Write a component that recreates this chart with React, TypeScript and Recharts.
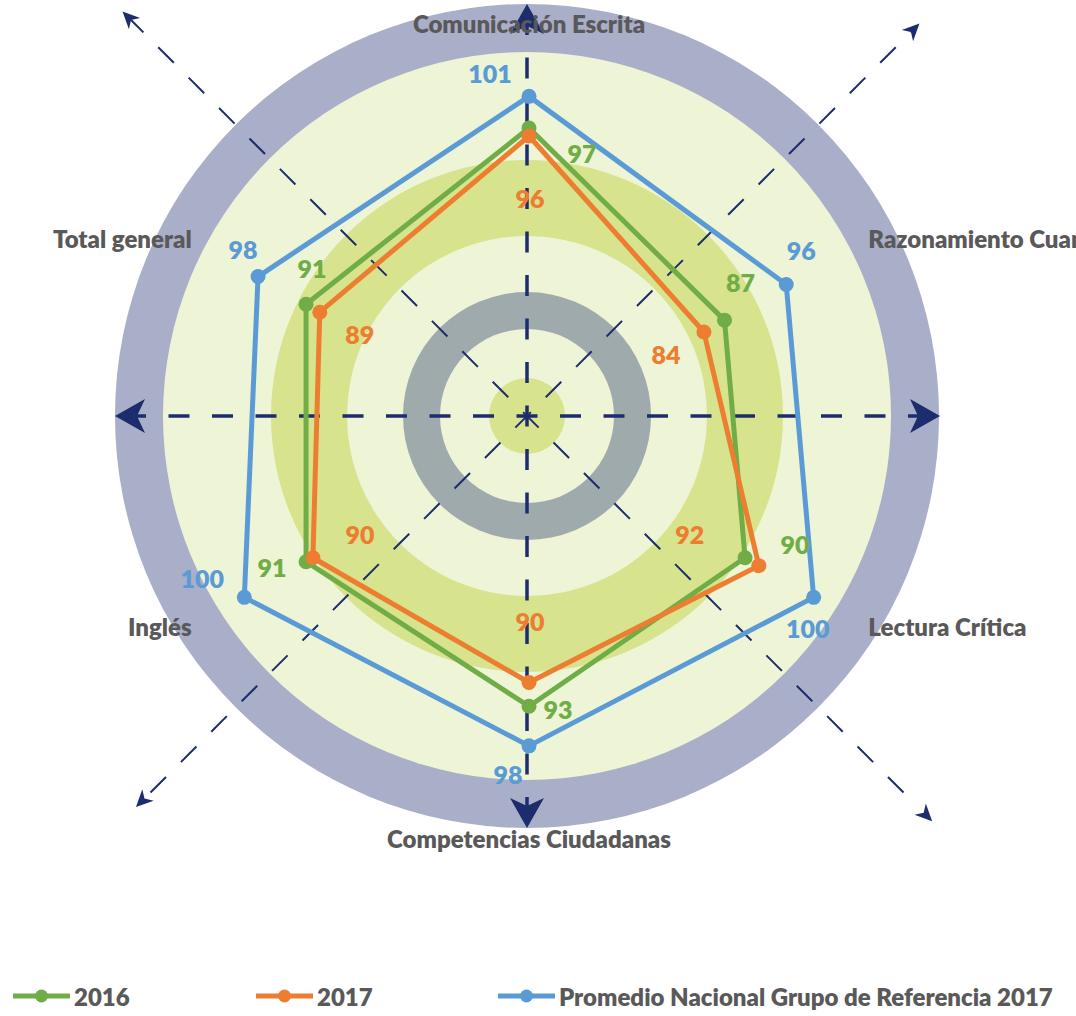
import React from 'react';
import { RadarChart, Radar, PolarAngleAxis, PolarRadiusAxis, LabelList, Legend } from 'recharts';

const categories = [
  'Comunicación Escrita',
  'Razonamiento Cuantitativo',
  'Lectura Crítica',
  'Competencias Ciudadanas',
  'Inglés',
  'Total general',
];
const values2016 = [97, 87, 90, 93, 91, 91];
const values2017 = [96, 84, 92, 90, 90, 89];
const valuesPromedio = [101, 96, 100, 98, 100, 98];
const seriesNames = ['2016', '2017', 'Promedio Nacional Grupo de Referencia 2017'];

const data = categories.map((c, i) => ({
  category: c,
  s2016: values2016[i],
  s2017: values2017[i],
  prom: valuesPromedio[i],
}));

const GREEN = '#70ad47';
const ORANGE = '#ed7d31';
const BLUE = '#5b9bd5';
const NAVY = '#1c2c6c';
const TEXT = '#595959';
const FONT = 'Lato, "Open Sans", sans-serif';
const FS = 24;

// label offsets (relative to each point) – styling only
const labelOffsets: Record<string, number[][]> = {
  s2016: [[53, 25], [16, -38], [50, -14], [29, 3], [-34, 5], [6, -36]],
  s2017: [[1, 62], [-38, 22], [-69, -32], [1, -62], [47, -24], [40, 22]],
  prom: [[-39, -23], [15, -34], [-6, 31], [-21, 28], [-42, -19], [-15, -28]],
};

const tickPlacement: { anchor: 'start' | 'middle' | 'end'; dx: number; dy: number }[] = [
  { anchor: 'middle', dx: 0, dy: 8 },
  { anchor: 'start', dx: -14, dy: 19 },
  { anchor: 'start', dx: -14, dy: -1 },
  { anchor: 'middle', dx: 0, dy: 7 },
  { anchor: 'end', dx: 16, dy: -1 },
  { anchor: 'end', dx: 16, dy: 19 },
];

const makeLabel = (key: string, color: string) => (props: any) => {
  const idx = props.index ?? 0;
  const px = props.x ?? props.viewBox?.x ?? props.cx;
  const py = props.y ?? props.viewBox?.y ?? props.cy;
  if (px == null || py == null) return null;
  const off = labelOffsets[key][idx] || [0, 0];
  return (
    <text
      x={px + off[0]}
      y={py + off[1]}
      textAnchor="middle"
      dominantBaseline="central"
      fill={color}
      fontFamily={FONT}
      fontWeight={800}
      fontSize={FS + 1}
    >
      {props.value}
    </text>
  );
};

const makeDot = (color: string) => (props: any) => (
  <circle key={`dot-${color}-${props.index}`} cx={props.cx} cy={props.cy} r={7.5} fill={color} />
);

const renderTick = (props: any) => {
  const { x, y, payload, index } = props;
  const p = tickPlacement[index] || { anchor: 'middle', dx: 0, dy: 0 };
  return (
    <text
      x={x + p.dx}
      y={y + p.dy}
      textAnchor={p.anchor}
      fill={TEXT}
      fontFamily={FONT}
      fontWeight={800}
      fontSize={FS}
    >
      {payload.value}
    </text>
  );
};

const C = { x: 527, y: 416 };

function arrow(tipX: number, tipY: number, ux: number, uy: number, len: number, halfW: number, notch: number) {
  const bx = tipX - ux * len;
  const by = tipY - uy * len;
  const nx = -uy;
  const ny = ux;
  const c1x = bx + nx * halfW;
  const c1y = by + ny * halfW;
  const c2x = bx - nx * halfW;
  const c2y = by - ny * halfW;
  const kx = tipX - ux * notch;
  const ky = tipY - uy * notch;
  return `M${tipX},${tipY} L${c1x},${c1y} L${kx},${ky} L${c2x},${c2y} Z`;
}

function Background() {
  const period = 43.5;
  const hStart = C.x - (period * 9 + 10.5);
  const vStart = C.y - (period * 9 + 10.5);
  const s = Math.SQRT1_2;
  const diag = [
    { ux: -s, uy: -s, tip: 572 },
    { ux: s, uy: -s, tip: 555 },
    { ux: s, uy: s, tip: 573 },
    { ux: -s, uy: s, tip: 553 },
  ];
  const dStart = period * 12 + 10.5;
  return (
    <svg width={1076} height={1016} style={{ position: 'absolute', left: 0, top: 0 }}>
      <circle cx={C.x} cy={C.y} r={412} fill="#a9aec9" />
      <circle cx={C.x} cy={C.y} r={364} fill="#eef4d6" />
      <circle cx={C.x} cy={C.y} r={256} fill="#d7e38d" />
      <circle cx={C.x} cy={C.y} r={180} fill="#eef4d6" />
      <circle cx={C.x} cy={C.y} r={124} fill="#9faaad" />
      <circle cx={C.x} cy={C.y} r={87} fill="#eef4d6" />
      <circle cx={C.x} cy={C.y} r={38} fill="#d7e38d" />
      <line x1={hStart} y1={C.y} x2={925} y2={C.y} stroke={NAVY} strokeWidth={3.5} strokeDasharray="21 22.5" />
      <line x1={C.x} y1={vStart} x2={C.x} y2={815} stroke={NAVY} strokeWidth={3.5} strokeDasharray="21 22.5" />
      {[diag[0], diag[1]].map((d, i) => {
        const x1 = C.x - d.ux * dStart;
        const y1 = C.y - d.uy * dStart;
        const x2 = C.x + d.ux * (d.tip - 12);
        const y2 = C.y + d.uy * (d.tip - 12);
        return <line key={'d' + i} x1={x1} y1={y1} x2={x2} y2={y2} stroke={NAVY} strokeWidth={2} strokeDasharray="22 21" />;
      })}
      <path d={arrow(115, C.y, -1, 0, 30, 17, 22)} fill={NAVY} />
      <path d={arrow(940, C.y, 1, 0, 30, 17, 22)} fill={NAVY} />
      <path d={arrow(C.x, 4, 0, -1, 30, 17, 22)} fill={NAVY} />
      <path d={arrow(C.x, 828, 0, 1, 30, 17, 22)} fill={NAVY} />
      {diag.map((d, i) => (
        <path
          key={'a' + i}
          d={arrow(C.x + d.ux * d.tip, C.y + d.uy * d.tip, d.ux, d.uy, 17, 8, 12)}
          fill={NAVY}
        />
      ))}
    </svg>
  );
}

const legendX = [13, 256, 498];

const renderLegend = (props: any) => {
  const payload = props.payload || [];
  return (
    <div style={{ position: 'relative', width: 1076, height: 40 }}>
      {payload.map((p: any, i: number) => (
        <div
          key={i}
          style={{
            position: 'absolute',
            left: legendX[i],
            top: 0,
            height: 36,
            display: 'flex',
            alignItems: 'center',
            whiteSpace: 'nowrap',
          }}
        >
          <svg width={60} height={20} style={{ display: 'block' }}>
            <line x1={0} y1={10} x2={57} y2={10} stroke={p.color} strokeWidth={5} />
            <circle cx={28.5} cy={10} r={6.5} fill={p.color} />
          </svg>
          <span style={{ fontFamily: FONT, fontWeight: 800, fontSize: FS, color: TEXT, marginLeft: 1 }}>
            {p.value}
          </span>
        </div>
      ))}
    </div>
  );
};

export default function App() {
  return (
    <div style={{ position: 'absolute', left: 0, top: 0, width: 1076, height: 1016, overflow: 'hidden', background: '#fff' }}>
      <Background />
      <RadarChart
        width={1076}
        height={1016}
        data={data}
        cx={529}
        cy={433}
        outerRadius={400}
        startAngle={90}
        endAngle={-270}
        margin={{ top: 0, right: 0, bottom: 0, left: 0 }}
        style={{ position: 'absolute', left: 0, top: 0 }}
      >
        <PolarAngleAxis dataKey="category" tick={renderTick} tickLine={false} axisLine={false} />
        <PolarRadiusAxis type="number" domain={[58.5, 108.5]} allowDataOverflow tick={false} axisLine={false} />
        <Radar
          name={seriesNames[0]}
          dataKey="s2016"
          stroke={GREEN}
          strokeWidth={5}
          strokeLinejoin="round"
          fill="none"
          fillOpacity={0}
          dot={makeDot(GREEN)}
          isAnimationActive={false}
        >
          <LabelList dataKey="s2016" content={makeLabel('s2016', GREEN)} />
        </Radar>
        <Radar
          name={seriesNames[1]}
          dataKey="s2017"
          stroke={ORANGE}
          strokeWidth={5}
          strokeLinejoin="round"
          fill="none"
          fillOpacity={0}
          dot={makeDot(ORANGE)}
          isAnimationActive={false}
        >
          <LabelList dataKey="s2017" content={makeLabel('s2017', ORANGE)} />
        </Radar>
        <Radar
          name={seriesNames[2]}
          dataKey="prom"
          stroke={BLUE}
          strokeWidth={5}
          strokeLinejoin="round"
          fill="none"
          fillOpacity={0}
          dot={makeDot(BLUE)}
          isAnimationActive={false}
        >
          <LabelList dataKey="prom" content={makeLabel('prom', BLUE)} />
        </Radar>
        <Legend
          content={renderLegend}
          wrapperStyle={{ position: 'absolute', left: 0, top: 978, width: 1076, height: 40 }}
        />
      </RadarChart>
    </div>
  );
}
